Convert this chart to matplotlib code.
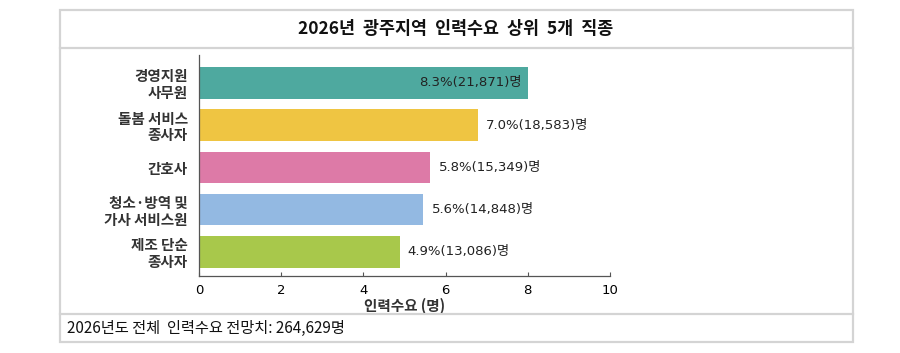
import matplotlib.pyplot as plt
from matplotlib.patches import Rectangle
from matplotlib.lines import Line2D

plt.rcParams['font.family'] = ['Noto Sans CJK KR', 'DejaVu Sans']

# 데이터
jobs = ['경영지원\n사무원', '돌봄 서비스\n종사자', '간호사', '청소·방역 및\n가사 서비스원', '제조 단순\n종사자']
bar_len = [8.0, 6.78, 5.63, 5.46, 4.88]
bar_text = ['8.3%(21,871)명', '7.0%(18,583)명', '5.8%(15,349)명', '5.6%(14,848)명', '4.9%(13,086)명']
colors = ['#4ea99f', '#efc542', '#dd7aa7', '#93b9e2', '#a8c84b']
x_ticks = [0, 2, 4, 6, 8, 10]

W, H = 900, 353
num_font = ['DejaVu Sans', 'Noto Sans CJK KR']


def fx(px):
    return px / W


def fy(py):
    return 1 - py / H


fig = plt.figure(figsize=(W / 100, H / 100), dpi=100)

# 바깥 틀
frame_col = '#d4d4d4'
fig.add_artist(Rectangle((fx(60), fy(342)), fx(853) - fx(60), fy(10) - fy(342),
                         transform=fig.transFigure, fill=False, ec=frame_col, lw=1.6))
for yy in (48, 314):
    fig.add_artist(Line2D([fx(60), fx(853)], [fy(yy), fy(yy)],
                          transform=fig.transFigure, color=frame_col, lw=1.6))

fig.text(fx(456), fy(29), '2026년  광주지역  인력수요  상위  5개  직종', ha='center', va='center',
         fontsize=12.5, fontweight='bold', color='#111111')
fig.text(fx(67), fy(328), '2026년도 전체  인력수요 전망치: 264,629명', ha='left', va='center',
         fontsize=11, color='#111111')

ax = fig.add_axes([fx(199), fy(276), fx(610) - fx(199), fy(55) - fy(276)])
ypos = list(range(len(jobs)))
ax.barh(ypos, bar_len, height=0.745, color=colors)

for i, (v, t) in enumerate(zip(bar_len, bar_text)):
    if i == 0:
        ax.text(v - 0.15, i, t, ha='right', va='center', fontsize=9.5, color='#222222',
                family=num_font)
    else:
        ax.text(v + 0.2, i, t, ha='left', va='center', fontsize=9.5, color='#222222',
                family=num_font)

ax.set_xlim(0, 10)
ax.set_ylim(4.57, -0.66)
ax.set_xticks(x_ticks)
ax.set_xticklabels([str(t) for t in x_ticks], fontsize=9.5, family=num_font)
ax.set_yticks(ypos)
ax.set_yticklabels(jobs, fontsize=10.5, linespacing=1.05, ha='right', fontweight='bold',
                   color='#333333')
ax.tick_params(axis='y', length=0, pad=8)
ax.tick_params(axis='x', direction='in', length=3, pad=6, color='#555555')
ax.set_xlabel('인력수요 (명)', fontsize=10.5, labelpad=0, fontweight='bold', color='#333333')
for s in ('top', 'right'):
    ax.spines[s].set_visible(False)
for s in ('left', 'bottom'):
    ax.spines[s].set_color('#555555')
    ax.spines[s].set_linewidth(0.9)

fig.savefig('out.png', dpi=100)
